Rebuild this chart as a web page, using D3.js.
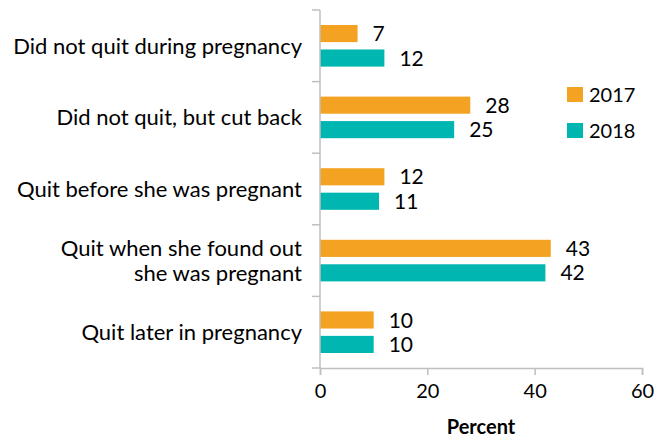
<!DOCTYPE html>
<html>
<head>
<meta charset="utf-8">
<script src="https://cdn.jsdelivr.net/npm/d3@7"></script>
<style>
body { margin: 0; background: #fff; }
text { font-family: Lato, "Open Sans", sans-serif; fill: #000; }
</style>
</head>
<body>
<svg class="chart" width="655" height="438"></svg>
<script>
var categories = [
  ["Did not quit during pregnancy"],
  ["Did not quit, but cut back"],
  ["Quit before she was pregnant"],
  ["Quit when she found out", "she was pregnant"],
  ["Quit later in pregnancy"]
];
var series = ["2017", "2018"];
var values2017 = [7, 28, 12, 43, 10];
var values2018 = [12, 25, 11, 42, 10];
var xTicks = [0, 20, 40, 60];
var colors = ["#F4A221", "#00B6B1"];

var mLeft = 320, mRight = 642, mTop = 10, mBottom = 368;
var chart = d3.select(".chart");

var x = d3.scaleLinear().domain([0, 60]).range([mLeft, mRight]);
var y = d3.scaleBand().domain(d3.range(categories.length)).range([mTop, mBottom]);
var inner = d3.scaleBand().domain(series).range([15, y.bandwidth() - 15]).paddingInner(0.3);

var rows = categories.map(function(c, i) {
  return { label: c, vals: [values2017[i], values2018[i]] };
});

var g = chart.selectAll("g.row").data(rows).enter().append("g")
  .attr("class", "row")
  .attr("transform", function(d, i) { return "translate(0," + y(i) + ")"; });

g.selectAll("rect").data(function(d) { return d.vals; }).enter().append("rect")
  .attr("x", x(0))
  .attr("y", function(d, j) { return inner(series[j]); })
  .attr("width", function(d) { return x(d) - x(0); })
  .attr("height", inner.bandwidth())
  .style("fill", function(d, j) { return colors[j]; });

g.selectAll("text.val").data(function(d) { return d.vals; }).enter().append("text")
  .attr("class", "val")
  .attr("x", function(d) { return x(d) + 15; })
  .attr("y", function(d, j) { return inner(series[j]) + inner.bandwidth() / 2; })
  .attr("dy", "0.36em")
  .style("font-size", "21px")
  .text(function(d) { return d; });

// category labels
g.append("text")
  .attr("text-anchor", "end")
  .attr("x", 302)
  .attr("y", function(d) { return y.bandwidth() / 2 - (d.label.length - 1) * 12.5; })
  .style("font-size", "22px")
  .selectAll("tspan").data(function(d) { return d.label; }).enter().append("tspan")
  .attr("x", 302)
  .attr("dy", function(d, k) { return k === 0 ? "0.36em" : "25"; })
  .text(function(d) { return d; });

// y axis with ticks between categories
var axisColor = "#BFBFBF";
chart.append("line")
  .attr("x1", x(0)).attr("x2", x(0))
  .attr("y1", mTop).attr("y2", mBottom)
  .style("stroke", axisColor).style("stroke-width", 1.5);
chart.selectAll("line.ytick").data(d3.range(categories.length + 1)).enter().append("line")
  .attr("class", "ytick")
  .attr("x1", x(0) - 8).attr("x2", x(0))
  .attr("y1", function(d) { return mTop + d * y.bandwidth(); })
  .attr("y2", function(d) { return mTop + d * y.bandwidth(); })
  .style("stroke", axisColor).style("stroke-width", 1.5);

// x axis
var xAxis = chart.append("g")
  .attr("transform", "translate(0," + mBottom + ")")
  .call(d3.axisBottom(x).tickValues(xTicks).tickSize(7).tickPadding(9));
xAxis.select(".domain").style("stroke", axisColor).style("stroke-width", 1.5);
xAxis.selectAll(".tick line").style("stroke", axisColor).style("stroke-width", 1.5);
xAxis.selectAll(".tick text").style("font-size", "20px").style("font-family", "Lato, sans-serif").style("fill", "#000");

chart.append("text")
  .attr("x", (mLeft + mRight) / 2)
  .attr("y", 434)
  .attr("text-anchor", "middle")
  .style("font-size", "20px")
  .style("font-weight", "bold")
  .text("Percent");

// legend
var legend = chart.selectAll("g.legend").data(series).enter().append("g")
  .attr("class", "legend")
  .attr("transform", function(d, i) { return "translate(567," + (87 + i * 36) + ")"; });
legend.append("rect").attr("width", 16).attr("height", 15)
  .style("fill", function(d, i) { return colors[i]; });
legend.append("text").attr("x", 22).attr("y", 8).attr("dy", "0.36em")
  .style("font-size", "20px")
  .text(function(d) { return d; });
</script>
</body>
</html>
